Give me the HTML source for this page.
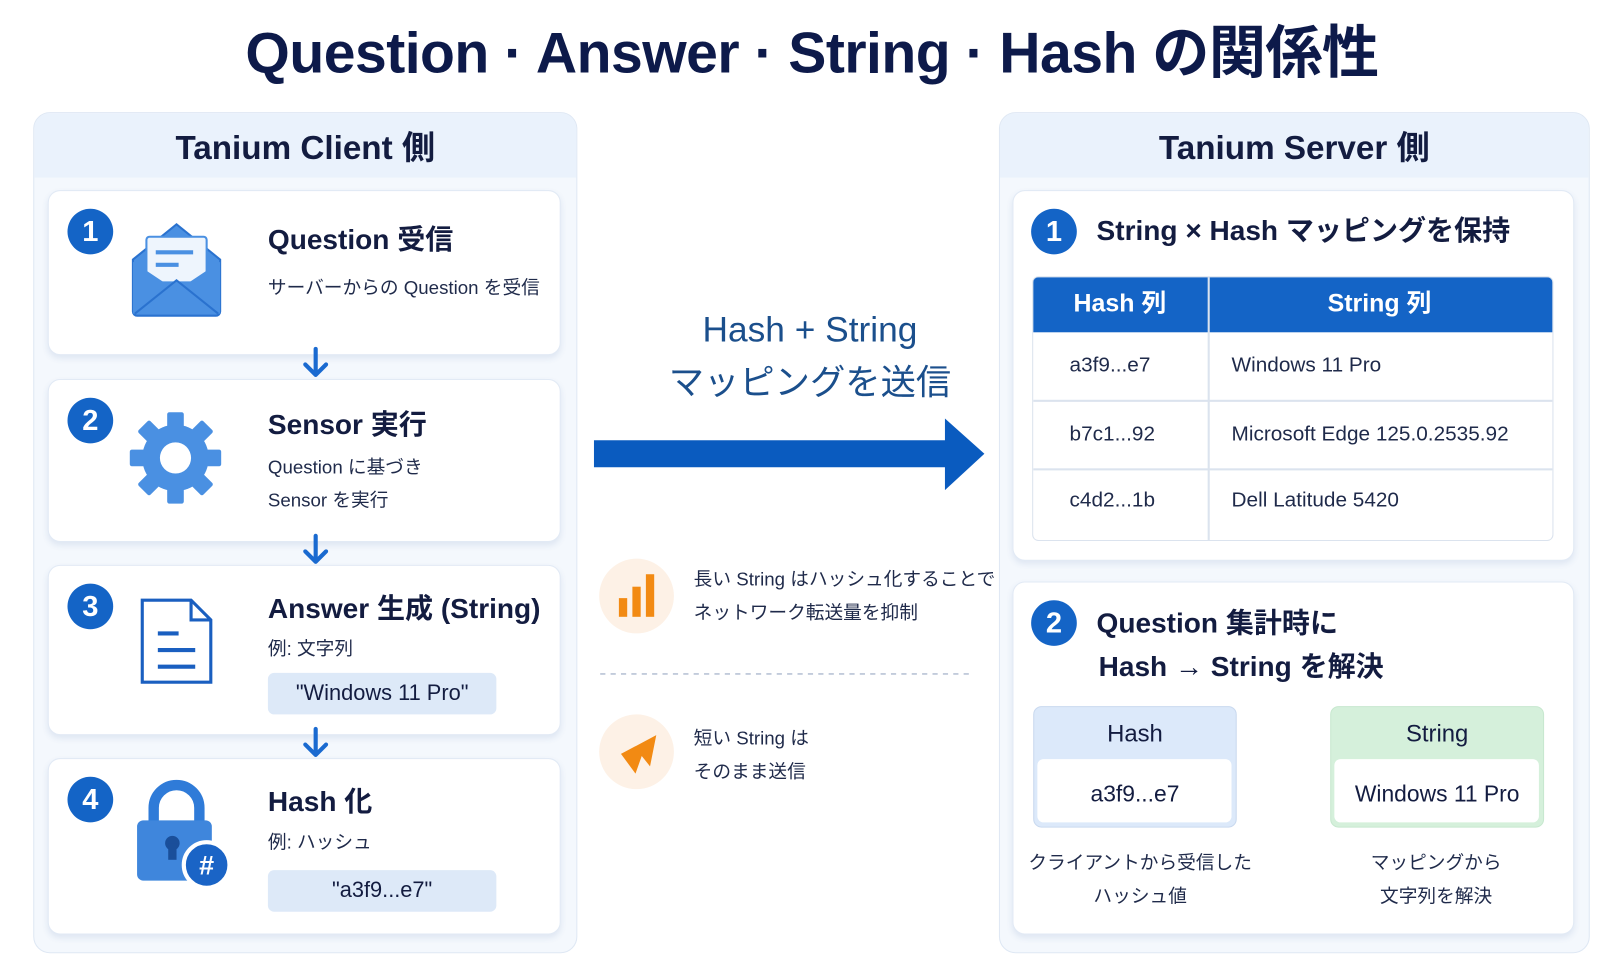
<!DOCTYPE html>
<html><head><meta charset="utf-8"><style>
html,body{margin:0;padding:0;background:#fff;width:1624px;height:969px;overflow:hidden}
#w{position:absolute;left:0;top:0;width:1564px;height:933px;transform:scale(1.0384);transform-origin:0 0;font-family:"Liberation Sans","Noto Sans CJK JP",sans-serif;color:#131c40}
.a{position:absolute;line-height:1;white-space:nowrap}
.panel{position:absolute;background:#f4f8fd;border:1px solid #dfe8f4;border-radius:16px;overflow:hidden}
.ph{position:absolute;left:0;right:0;top:0;height:62px;background:#eaf2fc}
.card{position:absolute;background:#fff;border:1px solid #e2eaf5;border-radius:12px;box-shadow:0 3px 6px rgba(40,80,150,.10)}
.num{position:absolute;width:44px;height:44px;border-radius:50%;background:#1464c6;color:#fff;font-weight:bold;font-size:28px;line-height:44px;text-align:center}
.h{font-weight:bold;font-size:27px}
.s{font-size:18px;color:#1f2a4a}
.chip{position:absolute;background:#dde9f8;border-radius:6px;font-size:21px;text-align:center;line-height:40px}
.td{font-size:20px;color:#1f2a4a}
</style></head><body><div id="w">
<div class="a" style="left:0;width:1564px;text-align:center;top:24px;font-size:55px;font-weight:bold;color:#0d1a4a;letter-spacing:-0.5px">Question · Answer · String · Hash の関係性</div>

<div class="panel" style="left:32px;top:108px;width:522px;height:808px"><div class="ph"></div></div>
<div class="a" style="left:32px;width:524px;text-align:center;top:126px;font-size:32px;font-weight:bold">Tanium Client 側</div>

<div class="card" style="left:46px;top:183px;width:492px;height:157px"></div>
<div class="card" style="left:46px;top:365px;width:492px;height:155px"></div>
<div class="card" style="left:46px;top:544px;width:492px;height:162px"></div>
<div class="card" style="left:46px;top:730px;width:492px;height:168px"></div>

<svg class="a" style="left:0;top:0" width="1564" height="933">
<g stroke="#1a6ad0" stroke-width="4" fill="none" stroke-linecap="round" stroke-linejoin="round">
<path d="M304 336V360M294 351l10 10 10-10"/>
<path d="M304 516V540M294 531l10 10 10-10"/>
<path d="M304 702V726M294 717l10 10 10-10"/>
</g>
<path d="M128 250 L170 216 L212 250 V300 a4 4 0 0 1-4 4 H132 a4 4 0 0 1-4-4Z" fill="#4a90e2" stroke="#2a72cf" stroke-width="2"/>
<rect x="141" y="228" width="58" height="44" rx="3" fill="#eef5fd" stroke="#4a90e2" stroke-width="2"/>
<path d="M150 243h36M150 255h22" stroke="#4a90e2" stroke-width="4"/>
<path d="M128 252 L170 280 L212 252 V302 H128Z" fill="#4a90e2"/>
<path d="M130 302 L170 270 L210 302" stroke="#2a72cf" stroke-width="2" fill="none"/>
<g transform="translate(169,441)" fill="#4a90e2">
<g id="t"><rect x="-8" y="-44" width="16" height="16" rx="2"/></g>
<use href="#t" transform="rotate(45)"/><use href="#t" transform="rotate(90)"/><use href="#t" transform="rotate(135)"/><use href="#t" transform="rotate(180)"/><use href="#t" transform="rotate(225)"/><use href="#t" transform="rotate(270)"/><use href="#t" transform="rotate(315)"/>
<circle r="32"/><circle r="15" fill="#fff"/>
</g>
<path d="M137 578H184L203 597V657H137Z" fill="#fff" stroke="#1a5fc0" stroke-width="3"/>
<path d="M184 578V597H203" fill="none" stroke="#1a5fc0" stroke-width="3"/>
<path d="M152 610h20M152 626h36M152 642h36" stroke="#1a5fc0" stroke-width="4"/>
<path d="M148 792V778a22 22 0 0 1 44 0V792" fill="none" stroke="#2f7bd8" stroke-width="10"/>
<rect x="132" y="790" width="72" height="58" rx="6" fill="#3f86dc"/>
<circle cx="166" cy="812" r="7" fill="#1a4f9a"/><rect x="162" y="812" width="8" height="16" fill="#1a4f9a"/>
<circle cx="199" cy="833" r="22" fill="#1a64c6" stroke="#fff" stroke-width="4"/>
<text x="199" y="842" font-size="26" font-weight="bold" fill="#fff" text-anchor="middle" font-family="Liberation Sans">#</text>
<path d="M572 424H910V403L948 437L910 472V450H572Z" fill="#0a5bbf"/>
<circle cx="613" cy="574" r="36" fill="#fdf1e6"/>
<rect x="596" y="576" width="8" height="18" fill="#f28a13"/><rect x="609" y="565" width="8" height="29" fill="#f28a13"/><rect x="622" y="553" width="8" height="41" fill="#f28a13"/>
<path d="M578 649H938" stroke="#b9c4d6" stroke-width="1.5" stroke-dasharray="5 5"/>
<circle cx="613" cy="724" r="36" fill="#fdf1e6"/>
<path d="M598 726L632 708L626 738L618 728L612 745Z" fill="#f28a13"/>
<path d="M1218 740H1254M1246 731l9 9-9 9" stroke="#1a6ad0" stroke-width="5" fill="none" stroke-linecap="round"/>
</svg>

<div class="num" style="left:65px;top:201px">1</div>
<div class="num" style="left:65px;top:383px">2</div>
<div class="num" style="left:65px;top:562px">3</div>
<div class="num" style="left:65px;top:748px">4</div>

<div class="a h" style="left:258px;top:218px">Question 受信</div>
<div class="a s" style="left:258px;top:268px">サーバーからの Question を受信</div>
<div class="a h" style="left:258px;top:396px">Sensor 実行</div>
<div class="a s" style="left:258px;top:441px">Question に基づき</div>
<div class="a s" style="left:258px;top:473px">Sensor を実行</div>
<div class="a h" style="left:258px;top:573px">Answer 生成 (String)</div>
<div class="a s" style="left:258px;top:616px">例: 文字列</div>
<div class="chip" style="left:258px;top:648px;width:220px;height:40px">"Windows 11 Pro"</div>
<div class="a h" style="left:258px;top:759px">Hash 化</div>
<div class="a s" style="left:258px;top:802px">例: ハッシュ</div>
<div class="chip" style="left:258px;top:838px;width:220px;height:40px">"a3f9...e7"</div>

<div class="a" style="left:580px;width:400px;text-align:center;top:301px;font-size:34px;color:#1b4f8c">Hash + String</div>
<div class="a" style="left:580px;width:400px;text-align:center;top:352px;font-size:34px;color:#1b4f8c">マッピングを送信</div>
<div class="a s" style="left:668px;top:549px">長い String はハッシュ化することで</div>
<div class="a s" style="left:668px;top:581px">ネットワーク転送量を抑制</div>
<div class="a s" style="left:668px;top:702px">短い String は</div>
<div class="a s" style="left:668px;top:734px">そのまま送信</div>

<div class="panel" style="left:962px;top:108px;width:567px;height:808px"><div class="ph"></div></div>
<div class="a" style="left:962px;width:569px;text-align:center;top:126px;font-size:32px;font-weight:bold">Tanium Server 側</div>
<div class="card" style="left:975px;top:183px;width:539px;height:355px"></div>
<div class="num" style="left:993px;top:201px">1</div>
<div class="a h" style="left:1056px;top:209px">String × Hash マッピングを保持</div>
<div style="position:absolute;left:994px;top:266px;width:500px;height:253px;border:1px solid #dbe3ee;border-radius:6px;overflow:hidden;background:#fff">
 <div style="position:absolute;left:0;top:0;width:100%;height:53px;background:#1464c6"></div>
 <div style="position:absolute;left:168px;top:0;width:2px;height:100%;background:#dbe3ee"></div>
 <div style="position:absolute;left:0;top:118px;width:100%;height:2px;background:#dbe3ee"></div>
 <div style="position:absolute;left:0;top:184px;width:100%;height:2px;background:#dbe3ee"></div>
</div>
<div class="a" style="left:994px;width:169px;text-align:center;top:281px;font-size:24px;font-weight:bold;color:#fff">Hash 列</div>
<div class="a" style="left:1163px;width:331px;text-align:center;top:281px;font-size:24px;font-weight:bold;color:#fff">String 列</div>
<div class="a td" style="left:1030px;top:342px">a3f9...e7</div>
<div class="a td" style="left:1186px;top:342px">Windows 11 Pro</div>
<div class="a td" style="left:1030px;top:408px">b7c1...92</div>
<div class="a td" style="left:1186px;top:408px">Microsoft Edge 125.0.2535.92</div>
<div class="a td" style="left:1030px;top:472px">c4d2...1b</div>
<div class="a td" style="left:1186px;top:472px">Dell Latitude 5420</div>

<div class="card" style="left:975px;top:560px;width:539px;height:338px"></div>
<div class="num" style="left:993px;top:578px">2</div>
<div class="a h" style="left:1056px;top:587px">Question 集計時に</div>
<div class="a h" style="left:1058px;top:629px">Hash → String を解決</div>
<div style="position:absolute;left:995px;top:680px;width:194px;height:115px;background:#dce9fa;border:1px solid #c9d9ef;border-radius:8px"></div>
<div style="position:absolute;left:999px;top:731px;width:187px;height:61px;background:#fff;border-radius:6px"></div>
<div class="a" style="left:995px;width:196px;text-align:center;top:695px;font-size:23px">Hash</div>
<div class="a" style="left:995px;width:196px;text-align:center;top:754px;font-size:22px">a3f9...e7</div>
<div style="position:absolute;left:1281px;top:680px;width:204px;height:115px;background:#d5f0db;border:1px solid #c7e8cf;border-radius:8px"></div>
<div style="position:absolute;left:1285px;top:731px;width:197px;height:61px;background:#fff;border-radius:6px"></div>
<div class="a" style="left:1281px;width:206px;text-align:center;top:695px;font-size:23px">String</div>
<div class="a" style="left:1281px;width:206px;text-align:center;top:754px;font-size:22px">Windows 11 Pro</div>
<div class="a s" style="left:985px;width:226px;text-align:center;top:822px">クライアントから受信した</div>
<div class="a s" style="left:985px;width:226px;text-align:center;top:854px">ハッシュ値</div>
<div class="a s" style="left:1283px;width:200px;text-align:center;top:822px">マッピングから</div>
<div class="a s" style="left:1283px;width:200px;text-align:center;top:854px">文字列を解決</div>
</div></body></html>
